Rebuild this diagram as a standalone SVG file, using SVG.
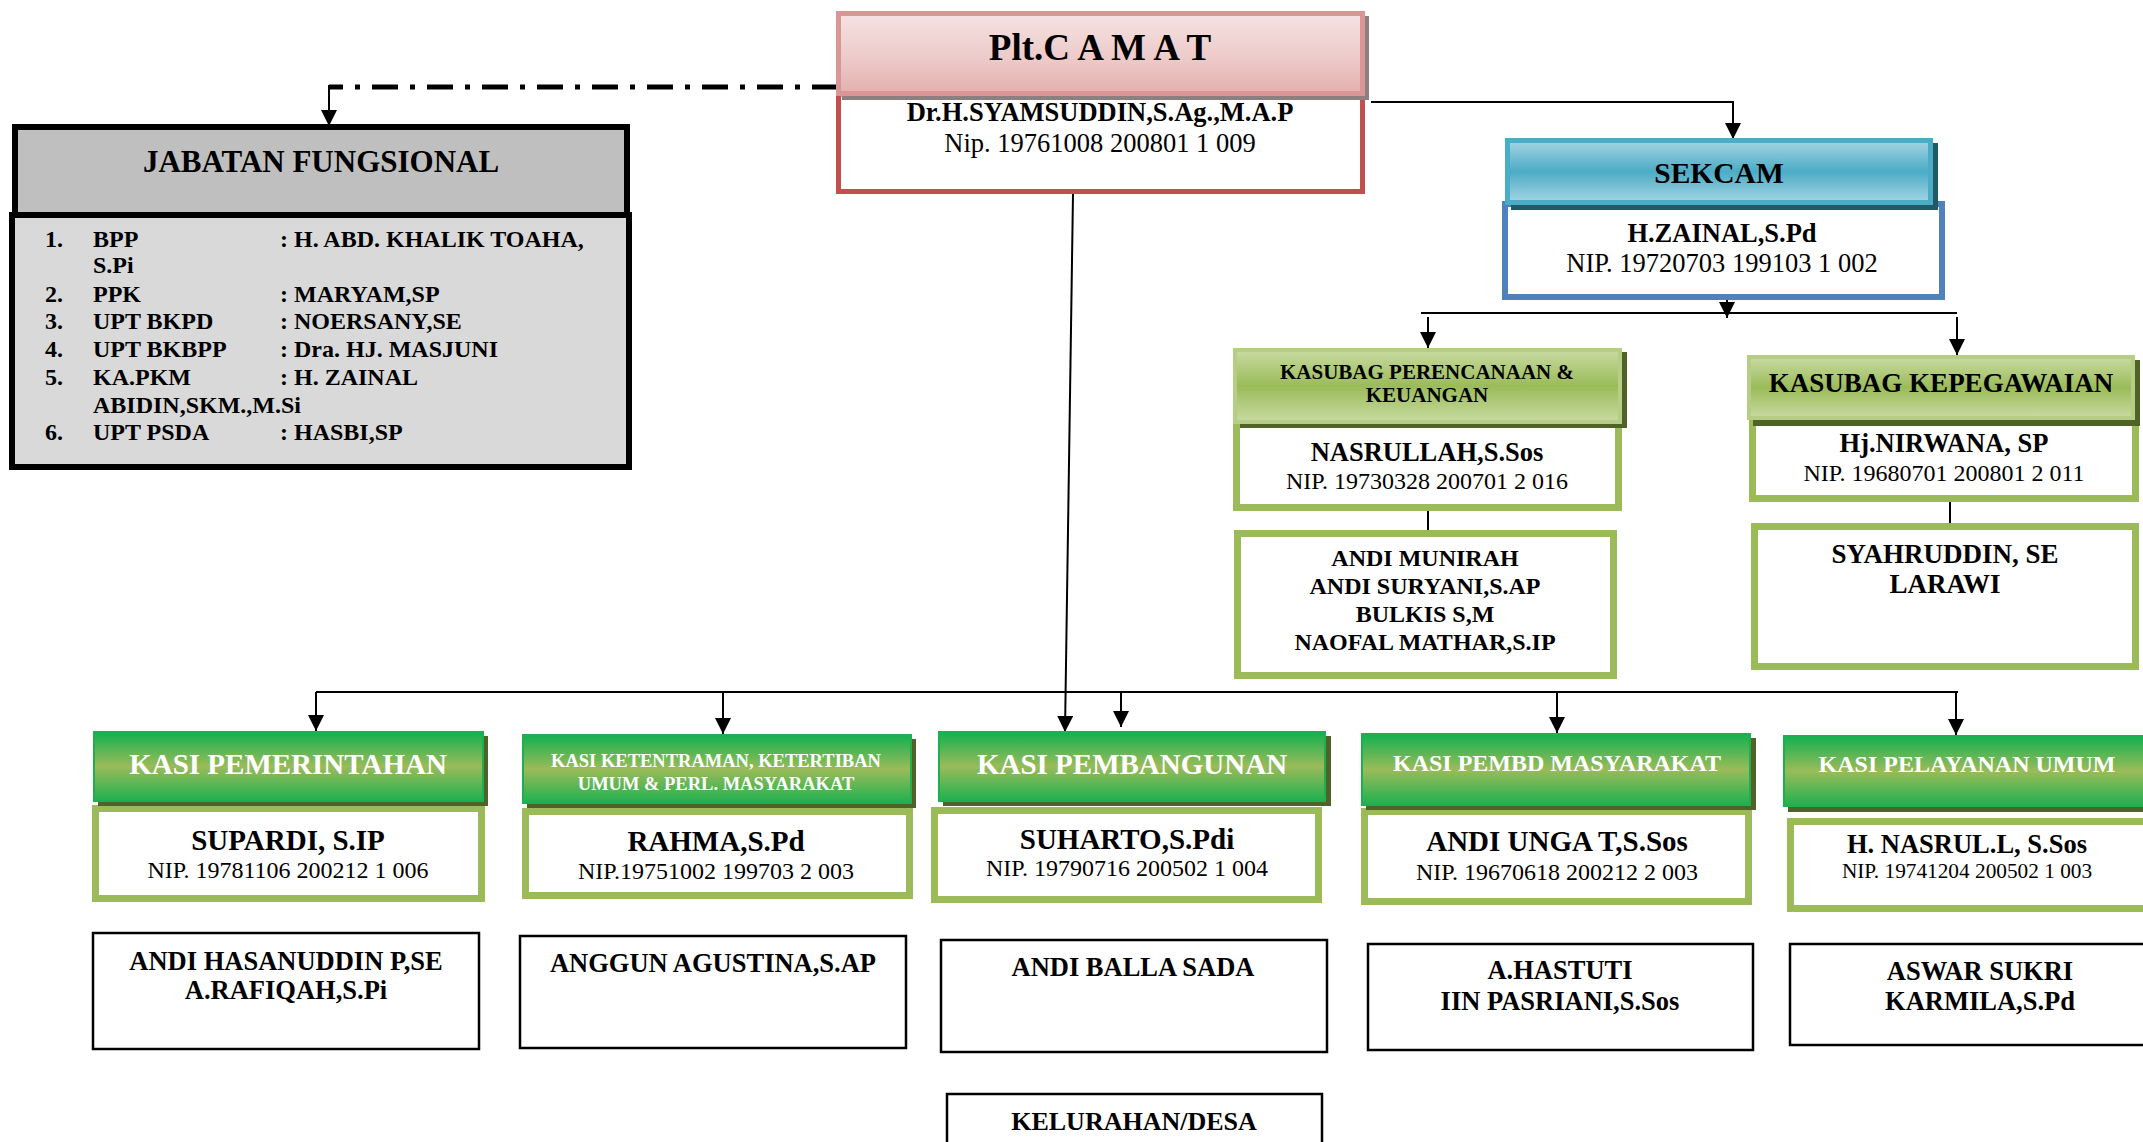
<svg xmlns="http://www.w3.org/2000/svg" width="2143" height="1142" viewBox="0 0 2143 1142">
<defs>
<linearGradient id="gPink" x1="0" y1="0" x2="0" y2="1">
<stop offset="0" stop-color="#F5E2E2"/><stop offset="0.55" stop-color="#EDCBCA"/><stop offset="1" stop-color="#E3AFAE"/>
</linearGradient>
<linearGradient id="gTeal" x1="0" y1="0" x2="0" y2="1">
<stop offset="0" stop-color="#A5D5E3"/><stop offset="0.5" stop-color="#4BACC6"/><stop offset="1" stop-color="#A5D5E3"/>
</linearGradient>
<linearGradient id="gOlive" x1="0" y1="0" x2="0" y2="1">
<stop offset="0" stop-color="#C8DBA2"/><stop offset="0.5" stop-color="#9BBB59"/><stop offset="1" stop-color="#C8DBA2"/>
</linearGradient>
<linearGradient id="gGreen" x1="0" y1="0" x2="0" y2="1">
<stop offset="0" stop-color="#12B050"/><stop offset="0.5" stop-color="#9BBB59"/><stop offset="1" stop-color="#1EB050"/>
</linearGradient>
<marker id="arr" viewBox="0 0 16 16" refX="16" refY="8" markerWidth="16" markerHeight="16" markerUnits="userSpaceOnUse" orient="auto">
<path d="M0,0 L16,8 L0,16 Z" fill="#000"/>
</marker>
<style>
text{font-family:"Liberation Serif","Times New Roman",serif;fill:#000;text-anchor:middle}
.b{font-weight:bold}
.w{fill:#fff;font-weight:bold}
.l{text-anchor:start;font-weight:bold;font-size:24px}
.gb{fill:#fff;stroke:#9BBB59;stroke-width:7}
.kb{fill:#fff;stroke:#000;stroke-width:2.5}
.kh{fill:url(#gGreen);stroke:#1EB050;stroke-width:2}
.oh{fill:url(#gOlive);stroke:#B5CD85;stroke-width:4}
.sh{fill:#4F6228}
.ln{stroke:#000;stroke-width:2;fill:none}
.dd{stroke:#000;stroke-width:5;fill:none;stroke-dasharray:26 12 5 12}
</style>
</defs>

<g id="connectors">
<path class="dd" d="M838,87 H329"/>
<path class="ln" d="M329,85 V126" marker-end="url(#arr)"/>
<path class="ln" d="M1371,102 H1733 V139" marker-end="url(#arr)"/>
<path class="ln" d="M1727,300 V318" marker-end="url(#arr)"/>
<path class="ln" d="M1421,313 H1957"/>
<path class="ln" d="M1428,317 V348" marker-end="url(#arr)"/>
<path class="ln" d="M1957,317 V355" marker-end="url(#arr)"/>
<path class="ln" d="M1428,511 V530"/>
<path class="ln" d="M1950,502 V523"/>
<path class="ln" d="M1073,194 L1065,732" marker-end="url(#arr)"/>
<path class="ln" d="M316,692 H1958"/>
<path class="ln" d="M316,692 V731" marker-end="url(#arr)"/>
<path class="ln" d="M723,692 V734" marker-end="url(#arr)"/>
<path class="ln" d="M1121,692 V727" marker-end="url(#arr)"/>
<path class="ln" d="M1557,692 V733" marker-end="url(#arr)"/>
<path class="ln" d="M1956,692 V735" marker-end="url(#arr)"/>
</g>

<g id="camat">
<rect x="838.5" y="94" width="524" height="97.5" fill="#fff" stroke="#C0504D" stroke-width="5"/>
<rect x="842" y="16" width="527" height="84" fill="#8C7F7F"/>
<rect x="838.5" y="13.5" width="524" height="80" fill="url(#gPink)" stroke="#D99694" stroke-width="5"/>
<text x="1100" y="60" class="b" font-size="37">Plt.C A M A T</text>
<text x="1100" y="121" class="b" font-size="26.5">Dr.H.SYAMSUDDIN,S.Ag.,M.A.P</text>
<text x="1100" y="152" font-size="26.5">Nip. 19761008 200801 1 009</text>
</g>

<g id="jabatan">
<rect x="12" y="215" width="617" height="252" fill="#D9D9D9" stroke="#000" stroke-width="6"/>
<rect x="15" y="127" width="612" height="88" fill="#BFBFBF" stroke="#000" stroke-width="6"/>
<text x="321" y="172" class="b" font-size="31">JABATAN FUNGSIONAL</text>
<text class="l" x="45" y="247">1.</text><text class="l" x="93" y="247">BPP</text><text class="l" x="280" y="247">: H. ABD. KHALIK TOAHA,</text>
<text class="l" x="93" y="273">S.Pi</text>
<text class="l" x="45" y="302">2.</text><text class="l" x="93" y="302">PPK</text><text class="l" x="280" y="302">: MARYAM,SP</text>
<text class="l" x="45" y="329">3.</text><text class="l" x="93" y="329">UPT BKPD</text><text class="l" x="280" y="329">: NOERSANY,SE</text>
<text class="l" x="45" y="357">4.</text><text class="l" x="93" y="357">UPT BKBPP</text><text class="l" x="280" y="357">: Dra. HJ. MASJUNI</text>
<text class="l" x="45" y="385">5.</text><text class="l" x="93" y="385">KA.PKM</text><text class="l" x="280" y="385">: H. ZAINAL</text>
<text class="l" x="93" y="413">ABIDIN,SKM.,M.Si</text>
<text class="l" x="45" y="440">6.</text><text class="l" x="93" y="440">UPT PSDA</text><text class="l" x="280" y="440">: HASBI,SP</text>
</g>

<g id="sekcam">
<rect x="1505" y="204" width="437" height="93" fill="#fff" stroke="#4F81BD" stroke-width="6"/>
<rect x="1511" y="143" width="427" height="67" fill="#215968"/>
<rect x="1507.5" y="140.5" width="423" height="62" fill="url(#gTeal)" stroke="#4BACC6" stroke-width="5"/>
<text x="1719" y="183" class="b" font-size="29.5">SEKCAM</text>
<text x="1722" y="242" class="b" font-size="26.5">H.ZAINAL,S.Pd</text>
<text x="1722" y="272" font-size="26.5">NIP. 19720703 199103 1 002</text>
</g>

<g id="kasubag-perencanaan">
<rect class="gb" x="1236.5" y="421" width="382" height="86.5"/>
<rect class="sh" x="1240" y="352" width="387" height="76"/>
<rect class="oh" x="1235" y="350" width="385" height="72"/>
<text x="1427" y="379" class="b" font-size="21">KASUBAG PERENCANAAN &amp;</text>
<text x="1427" y="402" class="b" font-size="21">KEUANGAN</text>
<text x="1427" y="461" class="b" font-size="26.5">NASRULLAH,S.Sos</text>
<text x="1427" y="489" font-size="24">NIP. 19730328 200701 2 016</text>
</g>

<g id="staf-perencanaan">
<rect class="gb" x="1237.5" y="533.5" width="376" height="142"/>
<text x="1425" y="566" class="b" font-size="24">ANDI MUNIRAH</text>
<text x="1425" y="594" class="b" font-size="24">ANDI SURYANI,S.AP</text>
<text x="1425" y="622" class="b" font-size="24">BULKIS S,M</text>
<text x="1425" y="650" class="b" font-size="24">NAOFAL MATHAR,S.IP</text>
</g>

<g id="kasubag-kepegawaian">
<rect class="gb" x="1752.5" y="421" width="383" height="77.5"/>
<rect class="sh" x="1753" y="360" width="387" height="66"/>
<rect class="oh" x="1749" y="357" width="384" height="61"/>
<text x="1941" y="392" class="b" font-size="27">KASUBAG KEPEGAWAIAN</text>
<text x="1944" y="452" class="b" font-size="26.5">Hj.NIRWANA, SP</text>
<text x="1944" y="481" font-size="24">NIP. 19680701 200801 2 011</text>
</g>

<g id="staf-kepegawaian">
<rect class="gb" x="1754.5" y="526.5" width="381" height="140"/>
<text x="1945" y="563" class="b" font-size="27">SYAHRUDDIN, SE</text>
<text x="1945" y="593" class="b" font-size="27">LARAWI</text>
</g>

<g id="kasi-pemerintahan">
<rect class="gb" x="95.5" y="808.5" width="386" height="90"/>
<rect class="sh" x="98" y="736" width="390" height="70"/>
<rect class="kh" x="94" y="732" width="389" height="69"/>
<text x="288" y="774" class="w" font-size="29">KASI PEMERINTAHAN</text>
<text x="288" y="850" class="b" font-size="29">SUPARDI, S.IP</text>
<text x="288" y="878" font-size="24">NIP. 19781106 200212 1 006</text>
</g>

<g id="kasi-ketentraman">
<rect class="gb" x="525.5" y="811.5" width="384" height="84"/>
<rect class="sh" x="527" y="739" width="389" height="69"/>
<rect class="kh" x="523" y="735" width="388" height="68"/>
<text x="716" y="767" class="w" font-size="18.5">KASI KETENTRAMAN, KETERTIBAN</text>
<text x="716" y="790" class="w" font-size="18.5">UMUM &amp; PERL. MASYARAKAT</text>
<text x="716" y="851" class="b" font-size="29">RAHMA,S.Pd</text>
<text x="716" y="879" font-size="24">NIP.19751002 199703 2 003</text>
</g>

<g id="kasi-pembangunan">
<rect class="gb" x="934.5" y="810.5" width="384" height="89"/>
<rect class="sh" x="943" y="736" width="388" height="70"/>
<rect class="kh" x="939" y="732" width="386" height="69"/>
<text x="1132" y="774" class="w" font-size="29">KASI PEMBANGUNAN</text>
<text x="1127" y="849" class="b" font-size="29">SUHARTO,S.Pdi</text>
<text x="1127" y="876" font-size="24">NIP. 19790716 200502 1 004</text>
</g>

<g id="kasi-pembd">
<rect class="gb" x="1364.5" y="811.5" width="384" height="90"/>
<rect class="sh" x="1366" y="738" width="390" height="72"/>
<rect class="kh" x="1362" y="734" width="388" height="71"/>
<text x="1557" y="771" class="w" font-size="24">KASI PEMBD MASYARAKAT</text>
<text x="1557" y="851" class="b" font-size="29">ANDI UNGA T,S.Sos</text>
<text x="1557" y="880" font-size="24">NIP. 19670618 200212 2 003</text>
</g>

<g id="kasi-pelayanan">
<rect class="gb" x="1790.5" y="821.5" width="380" height="87"/>
<rect class="sh" x="1788" y="740" width="380" height="72"/>
<rect class="kh" x="1784" y="736" width="380" height="70"/>
<text x="1967" y="772" class="w" font-size="24">KASI PELAYANAN UMUM</text>
<text x="1967" y="853" class="b" font-size="26.5">H. NASRUL.L, S.Sos</text>
<text x="1967" y="878" font-size="21.3">NIP. 19741204 200502 1 003</text>
</g>

<g id="staf-pemerintahan">
<rect class="kb" x="93" y="933" width="386" height="116"/>
<text x="286" y="970" class="b" font-size="26.5">ANDI HASANUDDIN P,SE</text>
<text x="286" y="999" class="b" font-size="26.5">A.RAFIQAH,S.Pi</text>
</g>
<g id="staf-ketentraman">
<rect class="kb" x="520" y="936" width="386" height="112"/>
<text x="713" y="972" class="b" font-size="26.5">ANGGUN AGUSTINA,S.AP</text>
</g>
<g id="staf-pembangunan">
<rect class="kb" x="941" y="940" width="386" height="112"/>
<text x="1133" y="976" class="b" font-size="26.5">ANDI BALLA SADA</text>
</g>
<g id="staf-pembd">
<rect class="kb" x="1368" y="944" width="385" height="106"/>
<text x="1560" y="979" class="b" font-size="26.5">A.HASTUTI</text>
<text x="1560" y="1010" class="b" font-size="26.5">IIN PASRIANI,S.Sos</text>
</g>
<g id="staf-pelayanan">
<rect class="kb" x="1790" y="944" width="380" height="101"/>
<text x="1980" y="980" class="b" font-size="26.5">ASWAR SUKRI</text>
<text x="1980" y="1010" class="b" font-size="26.5">KARMILA,S.Pd</text>
</g>
<g id="kelurahan">
<rect class="kb" x="947" y="1094" width="375" height="60"/>
<text x="1134" y="1130" class="b" font-size="26">KELURAHAN/DESA</text>
</g>
</svg>
